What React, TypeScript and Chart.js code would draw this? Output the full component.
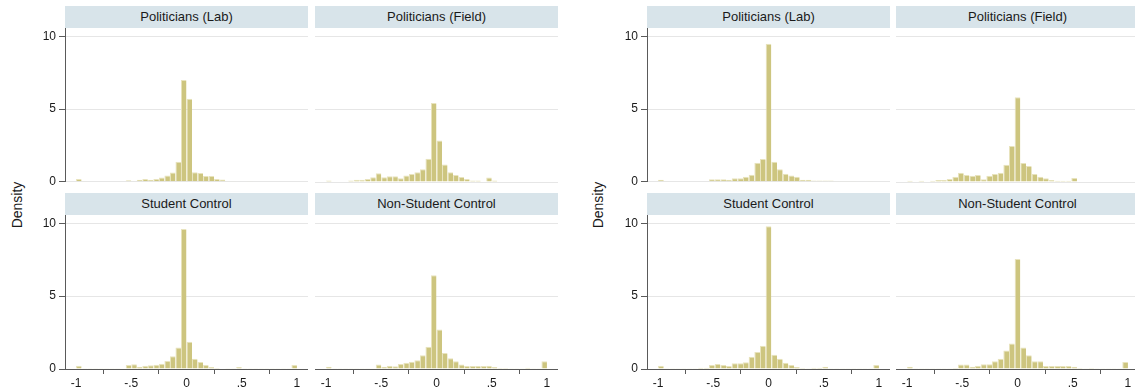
import React, { useEffect, useRef } from "react";
import { Chart, registerables } from "chart.js";

Chart.register(...registerables);

// ---------- data ----------
const panelTitles = ["Politicians (Lab)", "Politicians (Field)", "Student Control", "Non-Student Control"];

// Left figure: 40 bins of width .05 from -1 to 1
const leftBinCount = 40;
// Right figure: 39 bins from -1 to 1
const rightBinCount = 39;

const leftLab = [
  0.2, 0.05, 0, 0, 0.04, 0.04, 0, 0.04, 0.04, 0.1,
  0.05, 0.14, 0.2, 0.14, 0.2, 0.3, 0.43, 0.64, 1.37, 7.0,
  5.7, 0.66, 0.6, 0.4, 0.4, 0.2, 0.16, 0.05, 0.05, 0,
  0, 0.05, 0, 0, 0, 0, 0, 0, 0, 0,
];
const leftField = [
  0.1, 0.04, 0.04, 0.04, 0.1, 0.15, 0.15, 0.2, 0.32, 0.6,
  0.32, 0.39, 0.39, 0.25, 0.45, 0.55, 0.66, 0.87, 1.6, 5.42,
  2.85, 1.2, 0.66, 0.48, 0.34, 0.2, 0.1, 0.1, 0.04, 0.3,
  0.1, 0.04, 0.04, 0.04, 0.04, 0.04, 0.04, 0, 0.04, 0.04,
];
const leftStudent = [
  0.23, 0.02, 0.02, 0.02, 0.02, 0.02, 0.02, 0.02, 0.04, 0.27,
  0.32, 0.16, 0.22, 0.25, 0.3, 0.36, 0.55, 0.88, 1.48, 9.6,
  1.87, 0.7, 0.48, 0.27, 0.14, 0.07, 0.03, 0.02, 0.02, 0.14,
  0.02, 0.02, 0.02, 0.02, 0.02, 0.02, 0.02, 0.02, 0.02, 0.27,
];
const leftNonStudent = [
  0.16, 0.02, 0.02, 0.02, 0.02, 0.02, 0.02, 0.02, 0.05, 0.3,
  0.16, 0.22, 0.18, 0.34, 0.42, 0.5, 0.6, 0.94, 1.53, 6.42,
  2.7, 1.1, 0.73, 0.53, 0.3, 0.2, 0.2, 0.2, 0.2, 0.23,
  0.14, 0.07, 0.07, 0.02, 0.02, 0.02, 0.09, 0.02, 0.02, 0.53,
];

const rightLab = [
  0.14, 0.05, 0.03, 0, 0.04, 0.04, 0.04, 0.04, 0.04, 0.18,
  0.18, 0.18, 0.14, 0.25, 0.25, 0.34, 0.48, 1.3, 1.57, 9.48,
  1.37, 0.87, 0.55, 0.43, 0.34, 0.14, 0.14, 0.09, 0.09, 0.09,
  0.09, 0.05, 0.05, 0.05, 0.05, 0, 0, 0.05, 0,
];
const rightField = [
  0.09, 0.04, 0.09, 0.04, 0.09, 0.14, 0.14, 0.2, 0.36, 0.64,
  0.48, 0.43, 0.48, 0.18, 0.43, 0.55, 0.64, 1.18, 2.46, 5.8,
  1.3, 1.09, 0.55, 0.36, 0.25, 0.14, 0.09, 0.09, 0.09, 0.27,
  0.04, 0.04, 0.04, 0.04, 0.04, 0.04, 0, 0.04, 0.04,
];
const rightStudent = [
  0.23, 0.02, 0.02, 0.02, 0.02, 0.02, 0.02, 0.09, 0.09, 0.27,
  0.34, 0.27, 0.2, 0.39, 0.39, 0.46, 0.84, 1.16, 1.6, 9.79,
  0.98, 0.71, 0.43, 0.27, 0.14, 0.07, 0.02, 0.09, 0.09, 0.16,
  0.02, 0.02, 0.02, 0.02, 0.02, 0.02, 0.02, 0.02, 0.27,
];
const rightNonStudent = [
  0.16, 0.02, 0.02, 0.02, 0.02, 0.02, 0.02, 0.02, 0.07, 0.3,
  0.3, 0.16, 0.23, 0.32, 0.32, 0.53, 0.71, 1.26, 1.74, 7.53,
  1.48, 0.94, 0.53, 0.53, 0.2, 0.2, 0.2, 0.2, 0.2, 0.16,
  0.07, 0.02, 0.07, 0.02, 0.02, 0.02, 0.02, 0.02, 0.48,
];

const xTickValues = [-1, -0.5, 0, 0.5, 1];
const xTickLabels = ["-1", "-.5", "0", ".5", "1"];
const yTickValues = [0, 5, 10];
const yTickLabels = ["0", "5", "10"];
const yAxisTitle = "Density";

// ---------- style / layout ----------
const FONT = "'Liberation Sans', Arial, sans-serif";
const BAR = "#cdc57f";
const BAR_EDGE = "#e8e3bd";
const GRID = "#e6e6e6";
const AXIS = "#5a5a5a";
const TEXT = "#1a1a1a";
const STRIP = "#d8e4ea";
const X_MIN = -1.1;
const X_MAX = 1.1;
const Y_MAX = 10.55;
const PLOT_W = 243;
const PLOT_H = 154;
const Y_W = 45;
const X_H = 22;
const PAD = 10;
const STRIP_H = 22;

function centersFor(count: number): number[] {
  const w = 2 / count;
  return Array.from({ length: count }, (_, i) => -1 + (i + 0.5) * w);
}

type PanelProps = {
  title: string;
  values: number[];
  binCount: number;
  plotLeft: number;
  plotTop: number;
  showY: boolean;
  showX: boolean;
};

function Panel({ title, values, binCount, plotLeft, plotTop, showY, showX }: PanelProps) {
  const ref = useRef<HTMLCanvasElement>(null);
  const canvasLeft = showY ? plotLeft - Y_W : plotLeft;
  const canvasTop = plotTop - PAD;
  const canvasW = (showY ? Y_W : 0) + PLOT_W;
  const canvasH = PAD + PLOT_H + (showX ? X_H : PAD);

  useEffect(() => {
    const centers = centersFor(binCount);
    const chart = new Chart(ref.current as HTMLCanvasElement, {
      type: "bar",
      data: {
        datasets: [
          {
            data: centers.map((c, i) => ({ x: c, y: values[i] })),
            backgroundColor: BAR,
            borderColor: BAR_EDGE,
            borderWidth: { left: 1, top: 1, right: 0, bottom: 0 },
            borderSkipped: false,
            barPercentage: 1,
            categoryPercentage: 1,
            inflateAmount: 0,
          } as any,
        ],
      },
      options: {
        responsive: false,
        animation: false,
        events: [],
        layout: { padding: { top: PAD, left: 0, right: 0, bottom: showX ? 0 : PAD } },
        plugins: {
          legend: { display: false },
          tooltip: { enabled: false },
          title: { display: false },
        },
        scales: {
          x: {
            type: "linear",
            min: X_MIN,
            max: X_MAX,
            offset: false,
            display: showX,
            afterBuildTicks: (s: any) => {
              s.ticks = xTickValues.map((v) => ({ value: v }));
            },
            afterFit: (s: any) => {
              s.height = showX ? X_H : 0;
            },
            grid: {
              display: true,
              drawOnChartArea: false,
              drawTicks: true,
              tickLength: 5,
              tickColor: AXIS,
              color: AXIS,
            },
            border: { display: true, color: AXIS, width: 1 },
            ticks: {
              autoSkip: false,
              maxRotation: 0,
              padding: 2,
              color: TEXT,
              font: { family: FONT, size: 12 },
              callback: (_v: any, i: number) => xTickLabels[i],
            },
          },
          y: {
            type: "linear",
            min: 0,
            max: Y_MAX,
            afterBuildTicks: (s: any) => {
              s.ticks = yTickValues.map((v) => ({ value: v }));
            },
            afterFit: (s: any) => {
              s.width = showY ? Y_W : 0;
            },
            grid: {
              color: GRID,
              lineWidth: 1,
              drawTicks: showY,
              tickLength: 6,
              tickColor: AXIS,
            },
            border: { display: showY, color: AXIS, width: 1 },
            ticks: {
              display: showY,
              padding: 3,
              color: TEXT,
              font: { family: FONT, size: 12 },
              callback: (_v: any, i: number) => yTickLabels[i],
            },
          },
        },
      } as any,
    });
    return () => chart.destroy();
  }, [values, binCount, showX, showY]);

  return (
    <>
      <div
        style={{
          position: "absolute",
          left: plotLeft,
          top: plotTop - STRIP_H,
          width: PLOT_W,
          height: STRIP_H,
          background: STRIP,
          color: TEXT,
          fontFamily: FONT,
          fontSize: 13,
          lineHeight: `${STRIP_H}px`,
          textAlign: "center",
          whiteSpace: "nowrap",
        }}
      >
        {title}
      </div>
      <canvas
        ref={ref}
        width={canvasW}
        height={canvasH}
        style={{ position: "absolute", left: canvasLeft, top: canvasTop, width: canvasW, height: canvasH }}
      />
    </>
  );
}

function AxisTitle({ cx, cy }: { cx: number; cy: number }) {
  return (
    <div
      style={{
        position: "absolute",
        left: cx,
        top: cy,
        transform: "translate(-50%, -50%) rotate(-90deg)",
        fontFamily: FONT,
        fontSize: 14,
        color: TEXT,
        whiteSpace: "nowrap",
      }}
    >
      {yAxisTitle}
    </div>
  );
}

export default function App() {
  const topY = 28;
  const botY = 215;
  const groups = [
    { left: [65, 315], bins: leftBinCount, data: [leftLab, leftField, leftStudent, leftNonStudent], titleX: 17 },
    { left: [647, 896], bins: rightBinCount, data: [rightLab, rightField, rightStudent, rightNonStudent], titleX: 598 },
  ];
  return (
    <div
      style={{
        position: "fixed",
        left: 0,
        top: 0,
        width: 1135,
        height: 391,
        overflow: "hidden",
        background: "#ffffff",
      }}
    >
      {groups.map((g, gi) => (
        <React.Fragment key={gi}>
          <AxisTitle cx={g.titleX} cy={205} />
          {g.data.map((vals, pi) => {
            const col = pi % 2;
            const row = Math.floor(pi / 2);
            return (
              <Panel
                key={pi}
                title={panelTitles[pi]}
                values={vals}
                binCount={g.bins}
                plotLeft={g.left[col]}
                plotTop={row === 0 ? topY : botY}
                showY={col === 0}
                showX={row === 1}
              />
            );
          })}
        </React.Fragment>
      ))}
    </div>
  );
}
